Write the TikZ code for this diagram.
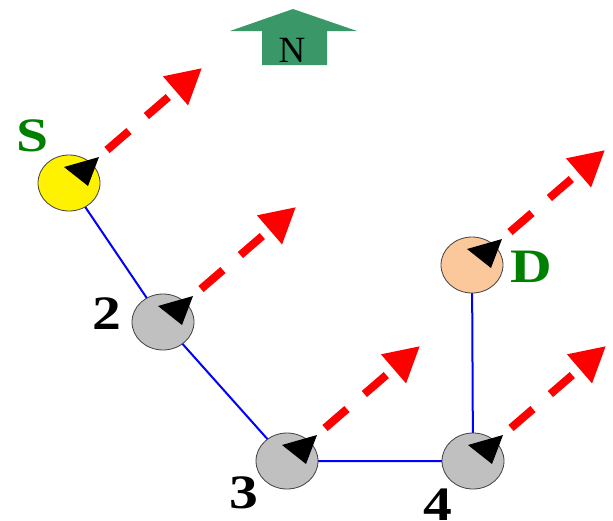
\documentclass[tikz,border=0pt]{standalone}
\usepackage{fontspec}
\setmainfont{Liberation Serif}
\usetikzlibrary{shapes.geometric,arrows.meta}
\definecolor{ngreen}{RGB}{58,152,104}
\definecolor{lblgreen}{RGB}{0,128,0}
\definecolor{peach}{RGB}{250,200,155}
\definecolor{nodegray}{RGB}{192,192,192}
\tikzset{
  wnode/.style={ellipse,draw=black!75,line width=0.8pt,minimum width=62pt,minimum height=56pt,inner sep=0pt},
  link/.style={blue,line width=2pt},
  heading/.style={red,line width=8pt,dash pattern=on 29pt off 23pt,-{Triangle[length=35pt,width=36pt]}},
  lbl/.style={inner sep=0pt,font=\fontsize{48}{48}\selectfont\bfseries},
  pointer/.style={fill=black}
}
\newcommand{\wide}[1]{\scalebox{1.2}[1]{#1}}
\newcommand{\blacktip}[1]{\fill[pointer] ([shift={(30,-26)}]#1.center) -- ([shift={(-5,-16)}]#1.center) -- ([shift={(19,3)}]#1.center) -- cycle;}
\newcommand{\redhead}[1]{\draw[heading] ([shift={(38,-33)}]#1.center) -- ([shift={(133,-115)}]#1.center);}
\begin{document}
\begin{tikzpicture}[x=1pt,y=-1pt]
\useasboundingbox (0,0) rectangle (613,520);
% north arrow
\fill[ngreen] (230,31) -- (293,9) -- (357,31) -- (327,31) -- (327,65) -- (262,65) -- (262,31) -- cycle;
\node[inner sep=0pt,font=\fontsize{37}{37}\selectfont] (north) at (292,50) {N};
% nodes
\coordinate (cs) at (69,183);
\coordinate (c2) at (163,322);
\coordinate (c3) at (287,461);
\coordinate (c4) at (473,461);
\coordinate (cd) at (472,265);
\draw[link] (cs) -- (c2) -- (c3) -- (c4) -- (cd);
\node[wnode,fill=yellow] (s) at (cs) {};
\node[wnode,fill=nodegray] (n2) at (c2) {};
\node[wnode,fill=nodegray] (n3) at (c3) {};
\node[wnode,fill=nodegray] (n4) at (c4) {};
\node[wnode,fill=peach] (d) at (cd) {};
% pointers
\blacktip{s}\blacktip{n2}\blacktip{n3}\blacktip{n4}\blacktip{d}
\redhead{s}\redhead{n2}\redhead{n3}\redhead{n4}\redhead{d}
% labels
\node[lbl,text=lblgreen] (ls) at (33,136) {\wide{S}};
\node[lbl,text=lblgreen] (ld) at (531,267) {\wide{D}};
\node[lbl] (l2) at (107,314) {\wide{2}};
\node[lbl] (l3) at (244,493) {\wide{3}};
\node[lbl] (l4) at (438,505) {\wide{4}};
\end{tikzpicture}
\end{document}
